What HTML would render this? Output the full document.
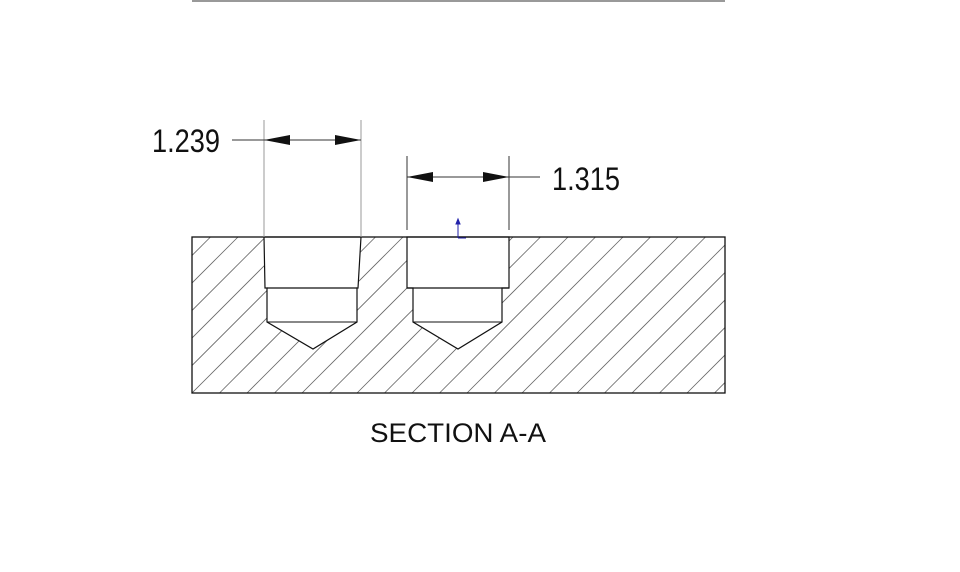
<!DOCTYPE html>
<html><head><style>
html,body{margin:0;padding:0;background:#fff;}
svg{display:block;}
text{font-family:"Liberation Sans",sans-serif;fill:#111;}
</style></head><body>
<svg width="960" height="572" viewBox="0 0 960 572" xmlns="http://www.w3.org/2000/svg">
<defs>
<clipPath id="c"><rect x="192" y="237" width="533" height="156"/></clipPath>
</defs>
<line x1="192" y1="1" x2="725" y2="1" stroke="#333" stroke-width="1"/>
<g clip-path="url(#c)" stroke="#777" stroke-width="0.8">
<path id="h" d="" />
<line x1="0" y1="0" x2="0" y2="0"/>
</g>
<g clip-path="url(#c)" stroke="#666" stroke-width="0.8">
<!-- hatch lines x+y = 805 + 27.5k -->
<script></script>
</g>
<g clip-path="url(#c)" stroke="#666" stroke-width="0.8" id="hatch"></g>
<!-- holes -->
<path d="M264,237 L361,237 L358,288 L357,288 L357,322 L313,349 L267,322 L267,288 L265,288 Z" fill="#fff" stroke="#111" stroke-width="1.2"/>
<line x1="267" y1="288" x2="357" y2="288" stroke="#111" stroke-width="1.2"/>
<line x1="267" y1="322" x2="357" y2="322" stroke="#111" stroke-width="1"/>
<path d="M407,237 L509,237 L509,288 L502,288 L502,322 L458,349 L413,322 L413,288 L407,288 Z" fill="#fff" stroke="#111" stroke-width="1.2"/>
<line x1="407" y1="288" x2="509" y2="288" stroke="#111" stroke-width="1.2"/>
<line x1="413" y1="322" x2="502" y2="322" stroke="#111" stroke-width="1"/>
<rect x="192" y="237" width="533" height="156" fill="none" stroke="#111" stroke-width="1.3"/>
<!-- dims -->
<g stroke="#999" stroke-width="1">
<line x1="264" y1="120" x2="264" y2="237"/>
<line x1="361" y1="120" x2="361" y2="237"/>
</g>
<g stroke="#333" stroke-width="1">
<line x1="407" y1="156" x2="407" y2="230"/>
<line x1="509" y1="156" x2="509" y2="230"/>
<line x1="232" y1="140" x2="361" y2="140"/>
<line x1="407" y1="177" x2="540" y2="177"/>
</g>
<g fill="#111">
<polygon points="264,140 290,135 290,145"/>
<polygon points="361,140 335,135 335,145"/>
<polygon points="407,177 433,172 433,182"/>
<polygon points="509,177 483,172 483,182"/>
</g>
<g stroke="#22a" stroke-width="1" fill="#22a">
<line x1="458" y1="238" x2="458" y2="222"/>
<polygon points="456,224 460,224 458,219"/>
<line x1="458" y1="238" x2="466" y2="238"/>
</g>
<text x="152" y="152" font-size="32" textLength="68" lengthAdjust="spacingAndGlyphs">1.239</text>
<text x="552" y="190" font-size="32" textLength="68" lengthAdjust="spacingAndGlyphs">1.315</text>
<text x="370" y="442" font-size="27" textLength="176" lengthAdjust="spacingAndGlyphs">SECTION A-A</text>
<script>
var g=document.getElementById('hatch');
for(var k=-20;k<30;k++){var s=805+27.5*k;
var l=document.createElementNS('http://www.w3.org/2000/svg','line');
l.setAttribute('x1',s-237);l.setAttribute('y1',237);l.setAttribute('x2',s-393);l.setAttribute('y2',393);g.appendChild(l);}
</script>
</svg>
</body></html>
